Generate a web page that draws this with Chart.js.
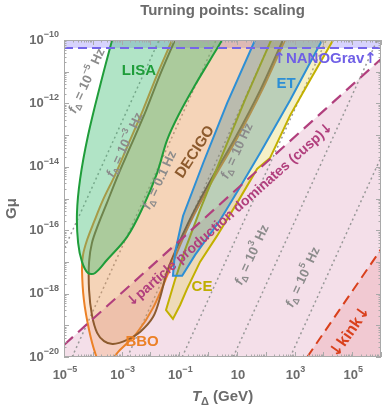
<!DOCTYPE html>
<html>
<head>
<meta charset="utf-8">
<script src="https://cdn.jsdelivr.net/npm/chart.js@4.4.1/dist/chart.umd.min.js"></script>
<style>
  html, body { margin: 0; padding: 0; background: #fff; }
  #wrap { width: 388px; height: 407px; }
</style>
</head>
<body>
<div id="wrap"><canvas id="turning"></canvas></div>
<script>
// both axes are log10: x = log10(T_Delta / GeV), y = log10(G mu)
var xTicks = [-5, -3, -1, 1, 3, 5];
var xTickLabels = [['10', '−5'], ['10', '−3'], ['10', '−1'], ['10', ''], ['10', '3'], ['10', '5']];
var yTicks = [-20, -18, -16, -14, -12, -10];
var yTickLabels = [['10', '−20'], ['10', '−18'], ['10', '−16'], ['10', '−14'], ['10', '−12'], ['10', '−10']];

// detector contours [log10 T, log10 Gmu]
var lisa = [[-3.23, -9.68], [-3.33, -10], [-3.75, -11.45], [-4.17, -13.03], [-4.44, -14.38], [-4.55, -15.46],
  [-4.51, -16.4], [-4.375, -17], [-4.17, -17.35], [-3.92, -17.35], [-3.51, -16.94], [-2.81, -16.21],
  [-2.26, -15.27], [-1.77, -14.2], [-1.42, -13.15], [-0.97, -12.27], [-0.45, -11.42], [0.07, -10.63],
  [0.49, -10], [0.69, -9.68]];
var bbo = [[-1.11, -9.68], [-1.25, -10], [-1.77, -11.1], [-2.26, -12.21], [-2.78, -13.31], [-3.23, -14.26],
  [-3.65, -15.05], [-3.96, -15.74], [-4.2, -16.31], [-4.34, -16.78], [-4.375, -17.26], [-4.31, -18.2],
  [-4.13, -19.15], [-3.92, -19.87], [-3.75, -20.16], [-3.47, -20.16], [-3.06, -19.78], [-2.47, -19.24],
  [-1.91, -18.45], [-1.32, -17.22], [-0.625, -15.77], [0.07, -14.57], [1.01, -13.09], [1.875, -11.58],
  [2.67, -10], [2.85, -9.68]];
var decigo = [[-1.0, -9.68], [-1.15, -10], [-1.67, -11.1], [-2.15, -12.21], [-2.67, -13.31], [-3.125, -14.26],
  [-3.51, -15.14], [-3.82, -15.84], [-4.03, -16.4], [-4.13, -17], [-4.13, -17.89], [-4.03, -18.68],
  [-3.85, -19.24], [-3.61, -19.5], [-3.3, -19.59], [-2.81, -19.46], [-2.36, -19.21], [-1.91, -18.74],
  [-1.67, -18.14], [-1.39, -17.22], [-0.69, -15.77], [0.0, -14.57], [0.94, -13.09], [1.81, -11.58],
  [2.6, -10], [2.78, -9.68]];
var et = [[1.77, -9.68], [1.63, -10], [0.66, -11.99], [-0.17, -13.88], [-0.87, -15.55], [-1.15, -16.72],
  [-1.22, -17.44], [-0.9, -17.44], [-0.45, -16.78], [0.42, -15.68], [1.11, -14.64], [1.81, -13.56],
  [2.85, -11.89], [3.96, -10], [4.13, -9.68]];
var ce = [[2.29, -9.68], [2.19, -10], [1.28, -11.89], [0.49, -13.63], [-0.28, -15.36], [-0.8, -16.62],
  [-1.15, -17.57], [-1.46, -18.52], [-1.22, -18.8], [-0.97, -18.36], [-0.73, -17.85], [-0.28, -17],
  [0.31, -16.18], [1.11, -14.98], [1.7, -14.07], [2.15, -13.72], [2.85, -12.37], [3.54, -11.26],
  [4.34, -10], [4.51, -9.68]];

// bounds
var nanograv = [[-5, -10.25], [6, -10.25]];
var cusp = [[-5, -19.62], [6, -10.6]];
var kink = [[3.44, -20], [6, -16.6]];

// f_Delta = const (dotted), label value as [base, exponent]
var fValues = [['10', '−5'], ['10', '−3'], ['0.1', ''], ['10', ''], ['10', '3'], ['10', '5']];
var fLines = [
  [[-6.7, -20], [-1.7, -10]],
  [[-4.72, -20], [0.28, -10]],
  [[-2.8, -20], [2.2, -10]],
  [[-0.9, -20], [4.1, -10]],
  [[0.87, -20], [5.87, -10]],
  [[2.85, -20], [7.85, -10]]
];

var FONT = '"Liberation Sans", Arial, sans-serif';
var ARROWS = '"DejaVu Sans", sans-serif';
var GREY = '#6b6b6b';

function pts(a) {
  return a.map(function (p) { return {x: p[0], y: p[1]}; });
}

function region(a, border, bg, tension) {
  return {data: pts(a), borderColor: border, backgroundColor: bg, borderWidth: 2,
    fill: 'shape', tension: tension, pointRadius: 0, clip: 0};
}

function dashed(a, color, width, dash) {
  return {data: pts(a), borderColor: color, borderWidth: width, borderDash: dash,
    fill: false, pointRadius: 0, clip: 0, tension: 0};
}

function area(a, bg) {
  return {data: pts(a), borderWidth: 0, borderColor: 'rgba(0,0,0,0)', backgroundColor: bg,
    fill: 'shape', pointRadius: 0, clip: 0, tension: 0};
}

var datasets = [
  dashed(nanograv, '#7565ea', 2, [9, 5]),
  dashed(cusp, '#b13f7d', 2.2, [12, 7]),
  dashed(kink, '#d9401c', 2, [10, 6]),
  region(et, '#2d8fd5', 'rgba(50,130,150,0.30)', 0),
  region(ce, '#c2b000', 'rgba(225,205,70,0.30)', 0),
  region(lisa, '#1f9d3a', 'rgba(70,190,120,0.42)', 0.35),
  region(decigo, '#8d5b2e', 'rgba(210,140,80,0.20)', 0.35),
  region(bbo, '#ec8126', 'rgba(247,160,90,0.28)', 0.35)
];
fLines.forEach(function (l) {
  datasets.push(dashed(l, '#999999', 1.5, [2, 3]));
});
datasets.push(area([[-5, -10.25], [6, -10.25], [6, -10], [-5, -10]], 'rgba(140,130,250,0.35)'));
datasets.push(area([kink[0], kink[1], [6, -20]], 'rgba(225,90,90,0.16)'));
datasets.push(area([cusp[0], cusp[1], [6, -20], [-5, -20]], 'rgba(215,140,175,0.28)'));

// text placed in data coordinates
var notes = [
  {t: [['LISA']], x: -2.4, y: -10.97, rot: 0, c: '#1f9d3a', s: 15},
  {t: [['DECIGO']], x: -0.45, y: -13.53, rot: -57, c: '#8d5b2e', s: 15},
  {t: [['ET']], x: 2.71, y: -11.39, rot: 0, c: '#2d8fd5', s: 15},
  {t: [['CE']], x: -0.21, y: -17.79, rot: 0, c: '#bfae00', s: 15},
  {t: [['BBO']], x: -2.29, y: -19.53, rot: 0, c: '#ec8126', s: 15},
  {t: [['↑', 'a'], ['NANOGrav'], ['↑', 'a']], x: 4.06, y: -10.6, rot: 0, c: '#6f5fe6', s: 15},
  {t: [['↓', 'a'], ['particle production dominates (cusp)'], ['↓', 'a']], x: 0.76, y: -15.52, rot: -41.5, c: '#b13f7d', s: 14},
  {t: [['↓', 'a'], ['kink'], ['↓', 'a']], x: 4.93, y: -19.21, rot: -55, c: '#d9401c', s: 16}
];
var fLabelPos = [[-4.2, -11.29], [-2.88, -13.31], [-1.67, -14.42], [1.01, -13.5], [1.53, -16.78], [3.3, -17.48]];
fValues.forEach(function (v, i) {
  notes.push({t: [['f', 'i'], ['Δ', 's'], [' = ' + v[0]], [v[1], 'u'], [' Hz']],
    x: fLabelPos[i][0], y: fLabelPos[i][1], rot: -65, c: '#8c8c8c', s: 13});
});

function partFont(p, size) {
  if (p[1] === 's') return 'bold ' + Math.round(size * 0.7) + 'px ' + FONT;
  if (p[1] === 'u') return 'bold ' + Math.round(size * 0.72) + 'px ' + FONT;
  if (p[1] === 'i') return 'italic bold ' + size + 'px ' + FONT;
  if (p[1] === 'a') return 'bold ' + size + 'px ' + ARROWS;
  return 'bold ' + size + 'px ' + FONT;
}

function drawRich(ctx, parts, x, y, rot, size, color, align) {
  ctx.save();
  ctx.translate(x, y);
  ctx.rotate(rot * Math.PI / 180);
  ctx.fillStyle = color;
  ctx.textBaseline = 'middle';
  ctx.textAlign = 'left';
  var total = 0;
  var widths = parts.map(function (p) {
    ctx.font = partFont(p, size);
    var w = ctx.measureText(p[0]).width;
    total += w;
    return w;
  });
  var cx = align === 'right' ? -total : -total / 2;
  parts.forEach(function (p, i) {
    ctx.font = partFont(p, size);
    var dy = p[1] === 's' ? size * 0.3 : (p[1] === 'u' ? -size * 0.42 : 0);
    ctx.fillText(p[0], cx, dy);
    cx += widths[i];
  });
  ctx.restore();
}

var framePlugin = {
  id: 'frame',
  afterDatasetsDraw: function (chart) {
    var ctx = chart.ctx, a = chart.chartArea, xs = chart.scales.x, ys = chart.scales.y;
    ctx.save();
    ctx.strokeStyle = '#a9a9a9';
    ctx.lineWidth = 1;
    ctx.beginPath();
    var e, k, p, len;
    for (e = -5; e <= 6; e++) {
      for (k = 1; k < 10; k++) {
        if (e === 6 && k > 1) break;
        p = Math.round(xs.getPixelForValue(e + Math.log10(k))) + 0.5;
        len = k === 1 ? 5 : 2.5;
        ctx.moveTo(p, a.bottom); ctx.lineTo(p, a.bottom - len);
        ctx.moveTo(p, a.top); ctx.lineTo(p, a.top + len);
      }
    }
    for (e = -20; e <= -10; e++) {
      for (k = 1; k < 10; k++) {
        if (e === -10 && k > 1) break;
        p = Math.round(ys.getPixelForValue(e + Math.log10(k))) + 0.5;
        len = k === 1 ? 5 : 2.5;
        ctx.moveTo(a.left, p); ctx.lineTo(a.left + len, p);
        ctx.moveTo(a.right, p); ctx.lineTo(a.right - len, p);
      }
    }
    ctx.stroke();
    ctx.strokeRect(a.left + 0.5, a.top + 0.5, a.right - a.left - 1, a.bottom - a.top - 1);
    ctx.restore();

    ctx.save();
    ctx.beginPath();
    ctx.rect(a.left, a.top, a.right - a.left, a.bottom - a.top);
    ctx.clip();
    notes.forEach(function (n) {
      drawRich(ctx, n.t, xs.getPixelForValue(n.x), ys.getPixelForValue(n.y), n.rot, n.s, n.c);
    });
    ctx.restore();

    // tick labels: 10 with raised exponent
    xTicks.forEach(function (v, i) {
      var l = xTickLabels[i];
      drawRich(ctx, [[l[0]], [l[1], 'u']], xs.getPixelForValue(v) + 1, a.bottom + 18, 0, 13, GREY);
    });
    yTicks.forEach(function (v, i) {
      var l = yTickLabels[i];
      drawRich(ctx, [[l[0]], [l[1], 'u']], a.left - 5, ys.getPixelForValue(v), 0, 13, GREY, 'right');
    });

    // axis titles
    drawRich(ctx, [['T', 'i'], ['Δ', 's'], [' (GeV)']], (a.left + a.right) / 2, a.bottom + 40, 0, 15, GREY);
    drawRich(ctx, [['Gμ']], a.left - 52, (a.top + a.bottom) / 2 + 10, -90, 15, GREY);
  }
};

new Chart(document.getElementById('turning'), {
  type: 'line',
  data: {datasets: datasets},
  options: {
    responsive: true,
    maintainAspectRatio: false,
    animation: false,
    events: [],
    layout: {padding: {left: 0, right: 7, top: 0, bottom: 0}},
    plugins: {
      legend: {display: false},
      tooltip: {enabled: false},
      title: {
        display: true,
        text: 'Turning points: scaling',
        fullSize: false,
        color: GREY,
        font: {family: FONT, size: 15, weight: 'bold', lineHeight: 1.2},
        padding: {top: 2, bottom: 20}
      }
    },
    scales: {
      x: {
        type: 'linear',
        min: -5,
        max: 6,
        grid: {display: false, drawTicks: false},
        border: {display: false},
        ticks: {display: false},
        afterBuildTicks: function (s) { s.ticks = xTicks.map(function (v) { return {value: v}; }); },
        afterFit: function (s) { s.height = 50; }
      },
      y: {
        type: 'linear',
        min: -20,
        max: -10,
        grid: {display: false, drawTicks: false},
        border: {display: false},
        ticks: {display: false},
        afterBuildTicks: function (s) { s.ticks = yTicks.map(function (v) { return {value: v}; }); },
        afterFit: function (s) { s.width = 64; }
      }
    }
  },
  plugins: [framePlugin]
});
</script>
</body>
</html>
